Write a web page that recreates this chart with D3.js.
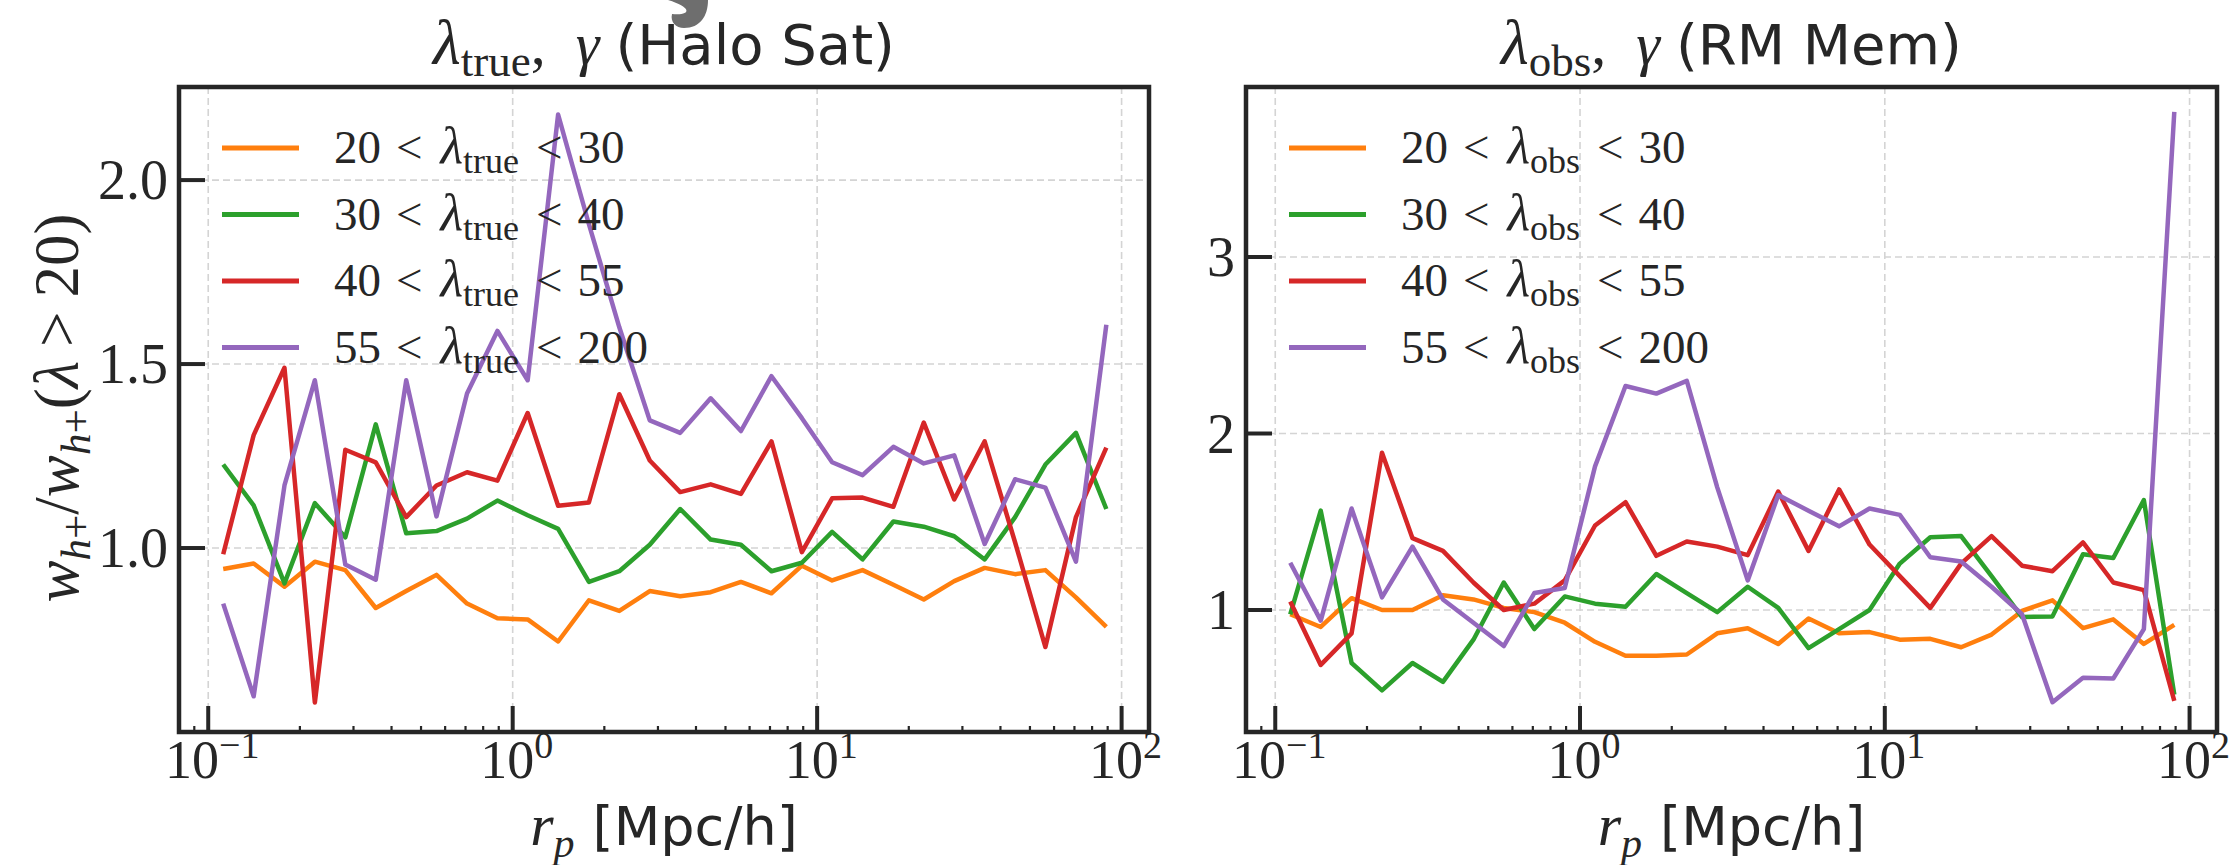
<!DOCTYPE html>
<html>
<head>
<meta charset="utf-8">
<script src="https://cdn.jsdelivr.net/npm/d3@7/dist/d3.min.js"></script>
<style>
  html, body { margin: 0; padding: 0; background: #fff; }
  svg { display: block; }
  .serif { font-family: "Liberation Serif", "DejaVu Serif", serif; }
  .sans  { font-family: "DejaVu Sans", "Open Sans", sans-serif; }
</style>
</head>
<body>
<svg id="chart" width="2231" height="865"></svg>
<script>
// projected separation bin centres [Mpc/h], 10 per decade
const rp = [0.112, 0.141, 0.178, 0.224, 0.282, 0.355, 0.447, 0.562, 0.708, 0.891,
            1.12, 1.41, 1.78, 2.24, 2.82, 3.55, 4.47, 5.62, 7.08, 8.91,
            11.2, 14.1, 17.8, 22.4, 28.2, 35.5, 44.7, 56.2, 70.8, 89.1];

// left panel: lambda_true bins (Halo Sat)
const true20to30 = [0.943, 0.958, 0.895, 0.963, 0.940, 0.837, 0.883, 0.927, 0.849, 0.809,
                    0.806, 0.746, 0.858, 0.829, 0.883, 0.869, 0.880, 0.908, 0.877, 0.952,
                    0.912, 0.940, 0.900, 0.860, 0.910, 0.946, 0.929, 0.940, 0.866, 0.786];
const true30to40 = [1.227, 1.116, 0.904, 1.122, 1.029, 1.336, 1.040, 1.046, 1.080, 1.129,
                    1.089, 1.052, 0.908, 0.937, 1.009, 1.106, 1.023, 1.009, 0.937, 0.960,
                    1.044, 0.969, 1.072, 1.058, 1.032, 0.969, 1.084, 1.227, 1.313, 1.106];
const true40to55 = [0.983, 1.307, 1.490, 0.580, 1.267, 1.233, 1.084, 1.170, 1.206, 1.183,
                    1.367, 1.115, 1.124, 1.418, 1.238, 1.152, 1.173, 1.147, 1.290, 0.989,
                    1.135, 1.137, 1.112, 1.341, 1.132, 1.290, 1.015, 0.731, 1.084, 1.273];
const true55to200 = [0.849, 0.597, 1.170, 1.456, 0.955, 0.914, 1.456, 1.086, 1.420, 1.590,
                     1.456, 2.178, 1.880, 1.600, 1.347, 1.313, 1.407, 1.318, 1.467, 1.353,
                     1.233, 1.198, 1.275, 1.230, 1.252, 1.011, 1.187, 1.164, 0.963, 1.607];

// right panel: lambda_obs bins (RM Mem)
const obs20to30 = [0.976, 0.904, 1.067, 1.000, 1.000, 1.084, 1.060, 1.012, 0.988, 0.928,
                   0.820, 0.741, 0.741, 0.748, 0.868, 0.897, 0.808, 0.952, 0.868, 0.875,
                   0.832, 0.837, 0.789, 0.861, 0.995, 1.055, 0.897, 0.947, 0.808, 0.916];
const obs30to40 = [0.976, 1.563, 0.700, 0.545, 0.700, 0.593, 0.832, 1.156, 0.892, 1.077,
                   1.036, 1.019, 1.204, 1.096, 0.988, 1.132, 1.012, 0.784, 0.892, 1.000,
                   1.263, 1.412, 1.419, 1.192, 0.960, 0.964, 1.316, 1.295, 1.623, 0.521];
const obs40to55 = [1.048, 0.689, 0.868, 1.891, 1.407, 1.335, 1.156, 1.000, 1.036, 1.168,
                   1.479, 1.611, 1.307, 1.388, 1.359, 1.311, 1.671, 1.335, 1.683, 1.371,
                   1.192, 1.012, 1.263, 1.419, 1.251, 1.220, 1.383, 1.156, 1.113, 0.485];
const obs55to200 = [1.268, 0.940, 1.575, 1.072, 1.359, 1.060, 0.928, 0.796, 1.096, 1.125,
                    1.814, 2.269, 2.226, 2.298, 1.695, 1.168, 1.651, 1.563, 1.474, 1.575,
                    1.539, 1.299, 1.275, 1.132, 0.976, 0.478, 0.617, 0.612, 0.892, 3.822];

const binEdges = [["20", "30"], ["30", "40"], ["40", "55"], ["55", "200"]];
const lineColors = ["#ff7f0e", "#2ca02c", "#d62728", "#9467bd"];

const xTickValues = [0.1, 1, 10, 100];
const xTickExponents = ["\u22121", "0", "1", "2"];
const leftYTicks = [1.0, 1.5, 2.0];
const rightYTicks = [1, 2, 3];

const svg = d3.select("#chart");
const INK = "#262626";

// ── little helper to write "base_sub" style math with tspans ──
function addParts(textSel, parts) {
  parts.forEach(p => {
    const t = textSel.append("tspan").text(p.t);
    if (p.cls) t.attr("class", p.cls);
    if (p.italic) t.attr("font-style", "italic");
    if (p.size) t.attr("font-size", p.size);
    if (p.dy) t.attr("dy", p.dy);
    if (p.dx) t.attr("dx", p.dx);
  });
}

function drawPanel(opts) {
  const { left, right, top, bottom, yDomain, yTicks, yFmt, series, lam, title } = opts;

  const x = d3.scaleLog().domain([Math.pow(10, -1.096), Math.pow(10, 2.09)]).range([left, right]);
  const y = d3.scaleLinear().domain(yDomain).range([bottom, top]);

  const g = svg.append("g");

  // ── grid (dashed, light) ──
  g.selectAll("line.gx").data(xTickValues).join("line")
    .attr("x1", d => x(d)).attr("x2", d => x(d))
    .attr("y1", top).attr("y2", bottom)
    .attr("stroke", "#d4d4d4").attr("stroke-width", 1.6).attr("stroke-dasharray", "7,4");
  g.selectAll("line.gy").data(yTicks).join("line")
    .attr("x1", left).attr("x2", right)
    .attr("y1", d => y(d)).attr("y2", d => y(d))
    .attr("stroke", "#d4d4d4").attr("stroke-width", 1.6).attr("stroke-dasharray", "7,4");

  // ── data lines ──
  const line = d3.line().x((d, i) => x(rp[i])).y(d => y(d));
  g.selectAll("path.series").data(series).join("path")
    .attr("fill", "none")
    .attr("stroke", (d, i) => lineColors[i])
    .attr("stroke-width", 4.5)
    .attr("stroke-linejoin", "round")
    .attr("d", line);

  // ── ticks (inward) ──
  const minor = [];
  for (const dec of [0.01, 0.1, 1, 10]) for (let k = 2; k <= 9; k++) minor.push(dec * k);
  const xDom = x.domain();
  g.selectAll("line.mx").data(minor.filter(v => v > xDom[0] && v < xDom[1])).join("line")
    .attr("x1", d => x(d)).attr("x2", d => x(d))
    .attr("y1", bottom).attr("y2", bottom - 6)
    .attr("stroke", INK).attr("stroke-width", 2.2);
  g.selectAll("line.tx").data(xTickValues).join("line")
    .attr("x1", d => x(d)).attr("x2", d => x(d))
    .attr("y1", bottom).attr("y2", bottom - 26)
    .attr("stroke", INK).attr("stroke-width", 4);
  g.selectAll("line.ty").data(yTicks).join("line")
    .attr("x1", left).attr("x2", left + 26)
    .attr("y1", d => y(d)).attr("y2", d => y(d))
    .attr("stroke", INK).attr("stroke-width", 4);

  // ── frame ──
  g.append("rect")
    .attr("x", left).attr("y", top)
    .attr("width", right - left).attr("height", bottom - top)
    .attr("fill", "none").attr("stroke", INK).attr("stroke-width", 4.5);

  // ── tick labels ──
  xTickValues.forEach((v, i) => {
    const t = g.append("text").attr("class", "serif")
      .attr("x", x(v) + 4).attr("y", bottom + 46)
      .attr("text-anchor", "middle").attr("font-size", 54).attr("fill", INK);
    addParts(t, [{ t: "10" }, { t: xTickExponents[i], size: 38, dy: -20 }]);
  });
  g.selectAll("text.yt").data(yTicks).join("text")
    .attr("class", "serif")
    .attr("x", left - 11).attr("y", d => y(d) + 19)
    .attr("text-anchor", "end").attr("font-size", 56).attr("fill", INK)
    .text(yFmt);

  // ── legend ──
  const lg = g.append("g").attr("transform", `translate(${left + 43},${top + 61})`);
  binEdges.forEach((b, i) => {
    const row = lg.append("g").attr("transform", `translate(0,${i * 66.5})`);
    row.append("line").attr("x1", 0).attr("x2", 77).attr("y1", 0).attr("y2", 0)
      .attr("stroke", lineColors[i]).attr("stroke-width", 5);
    const t = row.append("text").attr("class", "serif")
      .attr("x", 112).attr("y", 15).attr("font-size", 47).attr("fill", INK);
    addParts(t, [
      { t: b[0] },
      { t: "<", dx: 15 },
      { t: "\u03bb", italic: true, dx: 18, size: 52 },
      { t: lam, size: 36, dy: 10 },
      { t: "<", dy: -10, dx: 17 },
      { t: b[1], dx: 15 }
    ]);
  });

  // ── title ──
  const cx = (left + right) / 2;
  const tt = svg.append("text").attr("class", "serif")
    .attr("x", cx).attr("y", 64).attr("text-anchor", "middle")
    .attr("font-size", 60).attr("fill", INK);
  addParts(tt, [
    { t: "\u03bb", italic: true, size: 64 },
    { t: lam, size: 45, dy: 12 },
    { t: ",", dy: -12 },
    { t: "\u03b3", italic: true, dx: 30 },
    { t: "(" + title + ")", cls: "sans", size: 56, dx: 16 }
  ]);

  // ── x label ──
  const xl = svg.append("text").attr("class", "serif")
    .attr("x", cx).attr("y", 845).attr("text-anchor", "middle")
    .attr("font-size", 60).attr("fill", INK);
  addParts(xl, [
    { t: "r", italic: true },
    { t: "p", italic: true, size: 42, dy: 12 },
    { t: "[Mpc/h]", cls: "sans", size: 54, dy: -12, dx: 18 }
  ]);
}

drawPanel({
  left: 179, right: 1149, top: 87, bottom: 732,
  yDomain: [0.5, 2.253], yTicks: leftYTicks, yFmt: d => d.toFixed(1),
  series: [true20to30, true30to40, true40to55, true55to200],
  lam: "true", title: "Halo Sat"
});

drawPanel({
  left: 1246, right: 2217, top: 87, bottom: 732,
  yDomain: [0.309, 3.963], yTicks: rightYTicks, yFmt: d => String(d),
  series: [obs20to30, obs30to40, obs40to55, obs55to200],
  lam: "obs", title: "RM Mem"
});

// ── y label (left panel only) ──
const yl = svg.append("text").attr("class", "serif")
  .attr("transform", "translate(78,408) rotate(-90)")
  .attr("text-anchor", "middle").attr("font-size", 63).attr("fill", INK);
addParts(yl, [
  { t: "w", italic: true },
  { t: "h", italic: true, size: 43, dy: 12 },
  { t: "+", size: 43 },
  { t: "/", dy: -12 },
  { t: "w", italic: true },
  { t: "h", italic: true, size: 43, dy: 12 },
  { t: "+", size: 43 },
  { t: "(", dy: -12 },
  { t: "\u03bb", italic: true },
  { t: ">", dx: 14 },
  { t: "20)", dx: 14 }
]);

// stray grey mark cut off at the top edge of the source image
svg.append("path")
  .attr("d", "M 668 0 L 708 0 C 708 16, 700 28, 684 28 C 676 28, 670 22, 672 14 C 690 16, 694 8, 668 0 Z")
  .attr("fill", "#6e6e6e");
</script>
</body>
</html>
